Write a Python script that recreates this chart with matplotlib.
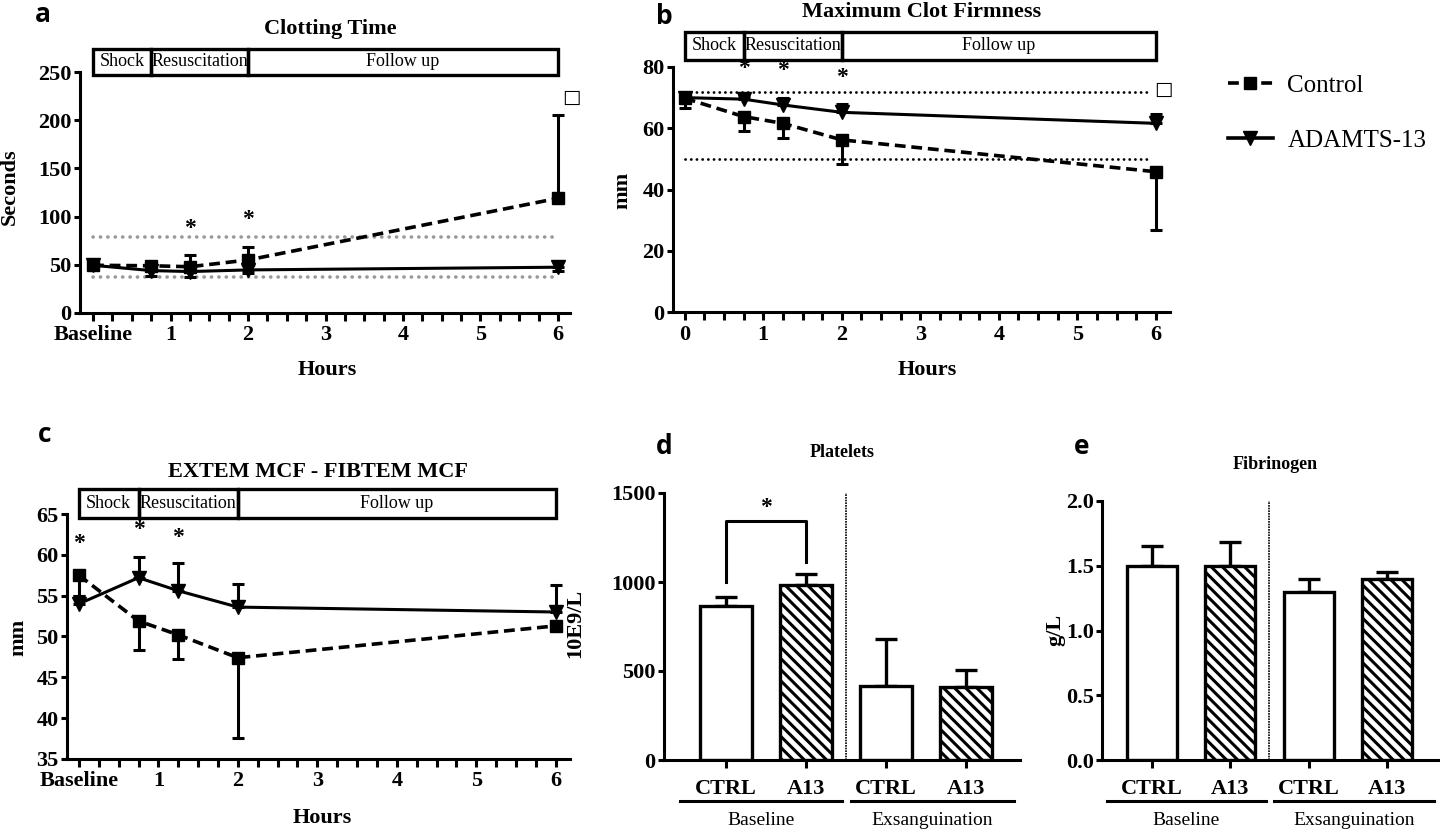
import matplotlib
matplotlib.use('Agg')
import matplotlib.pyplot as plt
from matplotlib.patches import Rectangle
from matplotlib.lines import Line2D
import numpy as np

W, H = 1440, 833

# time points (hours) for panels a-c
hours = [0, 0.75, 1.25, 2, 6]

# a: clotting time (seconds)
ct_ctrl = [49.5, 49, 48, 55, 119]
ct_ctrl_err = [0, 1.5, 12, 13, 86]      # drawn upward
ct_a13 = [49.5, 44, 43, 44.7, 47.5]
ct_a13_err = [0, 5.6, 5.2, 3.3, 4.2]    # drawn downward
ct_ref = [78.5, 37.7]
ct_stars = [(1.25, 88), (2, 96.5)]

# b: maximum clot firmness (mm)
mcf_ctrl = [69.8, 63.8, 61.6, 56.2, 45.8]
mcf_ctrl_err = [3.1, 4.7, 4.9, 8.0, 19.0]   # downward
mcf_a13 = [70, 69.5, 67.6, 65.2, 61.6]
mcf_a13_err = [1.5, 1.0, 2.2, 2.6, 3.0]     # upward
mcf_ref = [72, 50]
mcf_stars = [(0.75, 79.5), (1.25, 78.8), (2, 76.5)]

# c: EXTEM MCF - FIBTEM MCF (mm)
ex_ctrl = [57.5, 51.9, 50.2, 47.4, 51.3]
ex_ctrl_err = [2.6, 3.5, 2.9, 9.8, 0.3]     # downward
ex_a13 = [54.0, 57.2, 55.6, 53.6, 53.0]
ex_a13_err = [0.9, 2.5, 3.4, 2.8, 3.3]      # upward
ex_stars = [(0, 61.4), (0.75, 63.1), (1.25, 62.1)]

# d, e: bar charts
bar_labels = ['CTRL', 'A13', 'CTRL', 'A13']
group_labels = ['Baseline', 'Exsanguination']
platelets = [866, 981, 413, 409]
platelets_err = [47, 63, 266, 97]
fibrinogen = [1.5, 1.5, 1.3, 1.4]
fibrinogen_err = [0.15, 0.18, 0.10, 0.05]

stage_names = ['Shock', 'Resuscitation', 'Follow up']
stage_edges = [0, 0.75, 2, 6]

plt.rcParams['font.family'] = ['Liberation Serif', 'DejaVu Sans']
plt.rcParams['font.weight'] = 'bold'
plt.rcParams['axes.linewidth'] = 2.2
plt.rcParams['hatch.linewidth'] = 2.2

fig = plt.figure(figsize=(W / 100, H / 100), dpi=100)

CTRL_LS = (0, (3, 1.6))


def place(left, top, right, bottom):
    return fig.add_axes([left / W, 1 - bottom / H, (right - left) / W, (bottom - top) / H])


def ftext(x, y, s, **kw):
    fig.text(x / W, 1 - y / H, s, **kw)


def style(ax):
    ax.spines['top'].set_visible(False)
    ax.spines['right'].set_visible(False)
    ax.tick_params(axis='y', length=4, width=2.2, pad=2, labelsize=16)
    ax.tick_params(axis='x', which='both', length=6, width=2.2, pad=3, labelsize=16)


def stage_box(ax, y0, y1):
    trans = ax.get_xaxis_transform()
    for i, name in enumerate(stage_names):
        a, b = stage_edges[i], stage_edges[i + 1]
        ax.add_patch(Rectangle((a, y0), b - a, y1 - y0, transform=trans, fill=False,
                               lw=2.4, ec='black', clip_on=False))
        ax.text((a + b) / 2, (y0 + y1) / 2, name, transform=trans, ha='center', va='center',
                fontsize=13, fontweight='normal')


def timecourse(ax, ctrl, ctrl_err, ctrl_up, a13, a13_err, a13_up):
    z = np.zeros(len(hours))
    ce = [z, ctrl_err] if ctrl_up else [ctrl_err, z]
    ae = [z, a13_err] if a13_up else [a13_err, z]
    ax.errorbar(hours, a13, yerr=ae, color='black', lw=2.2, marker='v', ms=9.5,
                elinewidth=2.2, capsize=4, capthick=2.2, zorder=3)
    ax.errorbar(hours, ctrl, yerr=ce, color='black', lw=2.6, ls=CTRL_LS, marker='s', ms=9,
                elinewidth=2.2, capsize=4, capthick=2.2, zorder=4)
    ax.set_xticks(range(0, 7))
    ax.set_xticks(np.arange(0, 6.01, 0.25), minor=True)


def stars(ax, pts):
    for x, y in pts:
        ax.text(x, y, '*', ha='center', va='center', fontsize=17)


# ---- a: Clotting Time
ax = place(80, 72, 570, 313)
style(ax)
timecourse(ax, ct_ctrl, ct_ctrl_err, True, ct_a13, ct_a13_err, False)
for v in ct_ref:
    ax.plot([0, 5.94], [v, v], color='#999999', lw=2.6, ls=(0, (0.05, 2.0)),
            dash_capstyle='round', zorder=1)
stars(ax, ct_stars)
ax.text(6.17, 224, '\u25a1', ha='center', va='center', fontsize=14, family='DejaVu Sans', fontweight='normal')
ax.set_xlim(-0.168, 6.155)
ax.set_ylim(0, 250)
ax.set_yticks(range(0, 251, 50))
ax.set_xticklabels(['Baseline', '1', '2', '3', '4', '5', '6'])
stage_box(ax, 0.988, 1.095)
ax.text(0.51, 1.18, 'Clotting Time', transform=ax.transAxes, ha='center', va='center', fontsize=16)
ftext(10, 187, 'Seconds', rotation=90, ha='center', va='center', fontsize=16)
ftext(327, 370, 'Hours', ha='center', va='center', fontsize=16)
ftext(43, 15, 'a', ha='center', va='center', fontsize=19, family='Open Sans', fontweight='bold')

# ---- b: Maximum Clot Firmness
ax = place(673, 67, 1170, 312)
style(ax)
timecourse(ax, mcf_ctrl, mcf_ctrl_err, False, mcf_a13, mcf_a13_err, True)
for v in mcf_ref:
    ax.plot([0, 5.93], [v, v], color='black', lw=2.0, ls=(0, (0.05, 2.0)),
            dash_capstyle='round', zorder=1)
stars(ax, mcf_stars)
ax.text(6.1, 72.8, '\u25a1', ha='center', va='center', fontsize=14, family='DejaVu Sans', fontweight='normal')
ax.set_xlim(-0.15, 6.18)
ax.set_ylim(0, 80)
ax.set_yticks(range(0, 81, 20))
stage_box(ax, 1.03, 1.143)
ax.text(0.5, 1.225, 'Maximum Clot Firmness', transform=ax.transAxes, ha='center', va='center', fontsize=16)
ftext(622, 190, 'mm', rotation=90, ha='center', va='center', fontsize=16)
ftext(927, 370, 'Hours', ha='center', va='center', fontsize=16)
ftext(664, 17, 'b', ha='center', va='center', fontsize=19, family='Open Sans', fontweight='bold')

handles = [Line2D([], [], color='black', lw=2.6, ls=CTRL_LS, marker='s', ms=9),
           Line2D([], [], color='black', lw=2.6, marker='v', ms=9.5)]
leg = fig.legend(handles, ['Control', 'ADAMTS-13'], loc='upper left',
                 bbox_to_anchor=(1205 / W, 1 - 52 / H), frameon=False, fontsize=18,
                 handlelength=1.8, labelspacing=1.3, handletextpad=0.6)
for t in leg.get_texts():
    t.set_fontweight('normal')

# ---- c: EXTEM MCF - FIBTEM MCF
ax = place(67, 514, 570, 759)
style(ax)
timecourse(ax, ex_ctrl, ex_ctrl_err, False, ex_a13, ex_a13_err, True)
stars(ax, ex_stars)
ax.set_xlim(-0.15, 6.18)
ax.set_ylim(35, 65)
ax.set_yticks(range(35, 66, 5))
ax.set_xticklabels(['Baseline', '1', '2', '3', '4', '5', '6'])
stage_box(ax, 0.984, 1.102)
ax.text(0.5, 1.17, 'EXTEM MCF - FIBTEM MCF', transform=ax.transAxes, ha='center', va='center', fontsize=16)
ftext(18, 637, 'mm', rotation=90, ha='center', va='center', fontsize=16)
ftext(322, 818, 'Hours', ha='center', va='center', fontsize=16)
ftext(45, 435, 'c', ha='center', va='center', fontsize=19, family='Open Sans', fontweight='bold')


# ---- d, e: bar charts
def bar_panel(ax, vals, errs, ylim, yticks, ypad):
    style(ax)
    pos = np.arange(len(vals))
    bars = ax.bar(pos, vals, width=0.64, color='white', edgecolor='black', lw=2.4, zorder=2)
    for i, b in enumerate(bars):
        if i % 2 == 1:
            b.set_hatch('\\\\\\')
    ax.errorbar(pos, vals, yerr=[np.zeros(len(vals)), errs], fmt='none', ecolor='black',
                elinewidth=2.4, capsize=8, capthick=2.4, zorder=1)
    ax.axvline(1.5, color='black', lw=1.2, ls=(0, (1, 0.6)), zorder=1)
    ax.set_ylim(*ylim)
    ax.set_yticks(yticks)
    ax.set_xticks(pos)
    ax.set_xticklabels(bar_labels)
    ax.tick_params(axis='x', pad=8)
    trans = ax.get_xaxis_transform()
    for (a, b), g in zip([(-0.575, 1.45), (1.56, 3.6)], group_labels):
        ax.plot([a, b], [ypad[0], ypad[0]], color='black', lw=2.2, transform=trans, clip_on=False)
        ax.text((a + b) / 2, ypad[1], g, transform=trans, ha='center', va='center',
                fontsize=14, fontweight='normal')


ax = place(664, 493, 1020, 760)
bar_panel(ax, platelets, platelets_err, (0, 1500), [0, 500, 1000, 1500], (-0.154, -0.225))
ax.set_xlim(-0.775, 3.675)
bracket_lo = [1000, 1110]
bracket_top = 1340
ax.plot([0, 0, 1, 1], [bracket_lo[0], bracket_top, bracket_top, bracket_lo[1]], color='black', lw=2.2)
ax.text(0.5, 1420, '*', ha='center', va='center', fontsize=17)
ax.text(0.5, 1.153, 'Platelets', transform=ax.transAxes, ha='center', va='center', fontsize=13)
ftext(575, 623, '10E9/L', rotation=90, ha='center', va='center', fontsize=16)
ftext(664, 447, 'd', ha='center', va='center', fontsize=19, family='Open Sans', fontweight='bold')

ax = place(1102, 501, 1440, 760)
bar_panel(ax, fibrinogen, fibrinogen_err, (0, 2.0), [0.0, 0.5, 1.0, 1.5, 2.0], (-0.158, -0.232))
ax.set_yticklabels(['0.0', '0.5', '1.0', '1.5', '2.0'])
ax.set_xlim(-0.64, 3.68)
ax.text((1275 - 1102) / 338, 1.14, 'Fibrinogen', transform=ax.transAxes, ha='center', va='center', fontsize=13)
ftext(1055, 630, 'g/L', rotation=90, ha='center', va='center', fontsize=16)
ftext(1082, 447, 'e', ha='center', va='center', fontsize=19, family='Open Sans', fontweight='bold')

fig.savefig('out.png', dpi=100)
